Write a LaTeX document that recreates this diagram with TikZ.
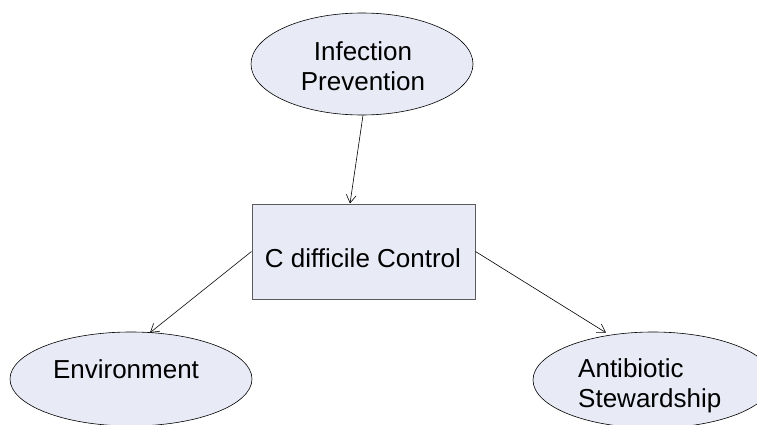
\documentclass[tikz,border=0pt]{standalone}
\usepackage{fontspec}
\setmainfont{Liberation Sans}
\usetikzlibrary{shapes.geometric, arrows.meta}
\definecolor{boxfill}{RGB}{232,234,246}
\definecolor{boxline}{RGB}{90,90,90}
\begin{document}
\begin{tikzpicture}[x=1pt,y=-1pt,
  ell/.style={ellipse, draw=black, line width=0.6pt, fill=boxfill, inner sep=0pt},
  rectbox/.style={rectangle, draw=boxline, line width=1pt, fill=boxfill, inner sep=0pt,
    minimum width=223pt, minimum height=95pt},
  txt/.style={font=\fontsize{26}{30}\selectfont, inner sep=0pt},
  arr/.style={-{Straight Barb[length=8pt,width=10pt]}, line width=0.6pt}]
\useasboundingbox (0,0) rectangle (757,425);
\fill[white] (0,0) rectangle (757,425);
% nodes
\node[ell, minimum width=222pt, minimum height=102pt] (ip) at (362,64) {};
\node[txt, anchor=north, align=center] (ipt) at (363,41) {Infection\\Prevention};
\node[rectbox] (cc) at (363.5,251.5) {};
\node[txt, anchor=base] (cct) at (363,267) {C difficile Control};
\node[ell, minimum width=242pt, minimum height=94pt] (env) at (131,379) {};
\node[txt, anchor=base] (envt) at (126,378) {Environment};
\node[ell, minimum width=240pt, minimum height=96pt] (ab) at (653,380) {};
\node[txt, anchor=north west, align=left] (abt) at (578,358) {Antibiotic\\Stewardship};
% connectors
\draw[arr] ([xshift=1pt]ip.south) -- ([xshift=-13.5pt]cc.north);
\draw[arr] (cc.west) -- ([xshift=19pt,yshift=-1pt]env.north);
\draw[arr] (cc.east) -- ([xshift=-47pt,yshift=-1pt]ab.north);
\end{tikzpicture}
\end{document}
